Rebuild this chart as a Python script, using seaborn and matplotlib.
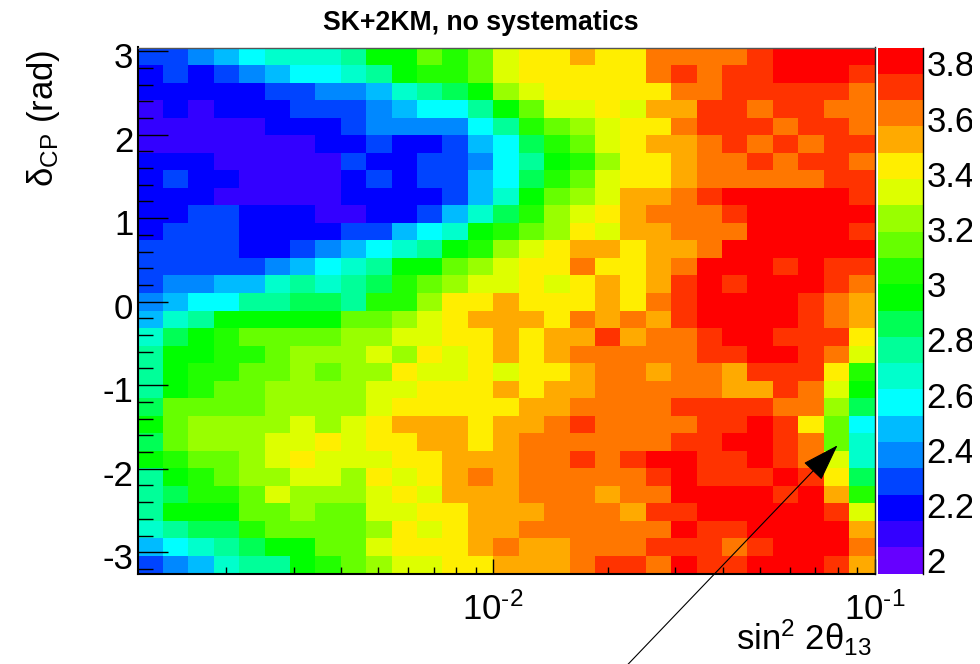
#!/usr/bin/env python3

"""SK+2KM sensitivity map in sin^2 2theta13 and delta CP, no systematics."""

import matplotlib.pyplot as plt
import matplotlib.transforms as mtransforms
import numpy as np
import seaborn as sns
from matplotlib.colors import ListedColormap
from matplotlib.patches import FancyArrowPatch
from matplotlib.ticker import FixedFormatter, FixedLocator, MultipleLocator

TITLE = "SK+2KM, no systematics"
YLABEL = r"$\mathrm{δ}_{\mathrm{CP}}$ (rad)"
XLABEL = r"sin$^{2}$ 2θ$_{13}$"

# one row per delta CP bin, top row first, one value per sin^2 2theta13 bin
surface = [
    [2.27, 2.27, 2.37, 2.46, 2.56, 2.65, 2.65, 2.65, 2.75, 2.94, 2.94, 3.13, 3.03, 3.13, 3.32, 3.42, 3.42, 3.51, 3.42, 3.42, 3.61, 3.61, 3.61, 3.61, 3.70, 3.80, 3.80, 3.80, 3.80],
    [2.18, 2.27, 2.18, 2.27, 2.37, 2.46, 2.56, 2.56, 2.65, 2.75, 2.94, 3.03, 3.03, 3.13, 3.32, 3.42, 3.42, 3.42, 3.42, 3.42, 3.61, 3.70, 3.61, 3.70, 3.70, 3.80, 3.80, 3.80, 3.70],
    [2.18, 2.18, 2.18, 2.18, 2.18, 2.27, 2.27, 2.37, 2.37, 2.46, 2.65, 2.75, 2.84, 2.94, 3.23, 3.32, 3.42, 3.42, 3.42, 3.42, 3.42, 3.61, 3.61, 3.70, 3.70, 3.70, 3.70, 3.70, 3.61],
    [2.08, 2.18, 2.08, 2.18, 2.18, 2.18, 2.27, 2.27, 2.27, 2.37, 2.46, 2.56, 2.56, 2.75, 2.94, 3.13, 3.32, 3.32, 3.42, 3.32, 3.51, 3.51, 3.70, 3.70, 3.61, 3.70, 3.70, 3.61, 3.61],
    [2.08, 2.08, 2.08, 2.08, 2.08, 2.18, 2.18, 2.18, 2.27, 2.37, 2.37, 2.37, 2.37, 2.56, 2.75, 3.03, 3.13, 3.23, 3.32, 3.42, 3.42, 3.61, 3.70, 3.70, 3.70, 3.61, 3.70, 3.70, 3.61],
    [2.08, 2.08, 2.08, 2.08, 2.08, 2.08, 2.08, 2.18, 2.18, 2.27, 2.18, 2.18, 2.27, 2.46, 2.56, 2.84, 3.03, 3.13, 3.32, 3.42, 3.51, 3.51, 3.61, 3.70, 3.61, 3.70, 3.61, 3.70, 3.70],
    [2.18, 2.18, 2.18, 2.08, 2.08, 2.08, 2.08, 2.08, 2.27, 2.18, 2.18, 2.27, 2.27, 2.37, 2.56, 2.75, 2.94, 3.03, 3.23, 3.42, 3.42, 3.51, 3.61, 3.61, 3.70, 3.61, 3.70, 3.70, 3.61],
    [2.18, 2.27, 2.18, 2.18, 2.08, 2.08, 2.08, 2.08, 2.18, 2.27, 2.18, 2.27, 2.27, 2.46, 2.56, 2.84, 3.03, 3.13, 3.32, 3.42, 3.42, 3.51, 3.61, 3.61, 3.61, 3.61, 3.61, 3.70, 3.70],
    [2.18, 2.18, 2.18, 2.08, 2.08, 2.08, 2.08, 2.08, 2.18, 2.18, 2.18, 2.18, 2.27, 2.46, 2.65, 2.94, 3.13, 3.23, 3.32, 3.51, 3.51, 3.61, 3.70, 3.80, 3.80, 3.80, 3.80, 3.80, 3.70],
    [2.18, 2.18, 2.27, 2.27, 2.18, 2.18, 2.18, 2.08, 2.08, 2.18, 2.18, 2.27, 2.46, 2.65, 2.84, 3.03, 3.23, 3.32, 3.42, 3.51, 3.61, 3.61, 3.61, 3.70, 3.80, 3.80, 3.80, 3.80, 3.80],
    [2.18, 2.27, 2.27, 2.27, 2.18, 2.18, 2.18, 2.18, 2.27, 2.27, 2.46, 2.56, 2.65, 2.94, 3.03, 3.13, 3.23, 3.42, 3.32, 3.51, 3.51, 3.61, 3.61, 3.61, 3.80, 3.80, 3.80, 3.80, 3.70],
    [2.27, 2.27, 2.27, 2.27, 2.18, 2.18, 2.27, 2.37, 2.46, 2.56, 2.65, 2.75, 2.94, 3.03, 3.23, 3.32, 3.42, 3.51, 3.51, 3.42, 3.51, 3.51, 3.61, 3.80, 3.80, 3.80, 3.80, 3.80, 3.80],
    [2.27, 2.27, 2.27, 2.27, 2.27, 2.37, 2.46, 2.56, 2.65, 2.75, 2.94, 2.94, 3.13, 3.23, 3.32, 3.42, 3.42, 3.61, 3.42, 3.42, 3.51, 3.61, 3.80, 3.80, 3.80, 3.70, 3.80, 3.70, 3.70],
    [2.27, 2.37, 2.37, 2.46, 2.46, 2.65, 2.75, 2.65, 2.75, 2.84, 3.03, 3.13, 3.23, 3.32, 3.32, 3.42, 3.32, 3.42, 3.51, 3.42, 3.51, 3.70, 3.80, 3.70, 3.80, 3.80, 3.80, 3.70, 3.61],
    [2.37, 2.46, 2.56, 2.56, 2.75, 2.75, 2.84, 2.84, 2.75, 3.03, 3.03, 3.23, 3.42, 3.42, 3.51, 3.42, 3.42, 3.42, 3.51, 3.42, 3.61, 3.70, 3.80, 3.80, 3.80, 3.80, 3.70, 3.61, 3.51],
    [2.46, 2.65, 2.75, 2.94, 2.94, 2.94, 2.94, 2.94, 3.13, 3.13, 3.23, 3.32, 3.42, 3.51, 3.51, 3.51, 3.42, 3.61, 3.51, 3.61, 3.51, 3.70, 3.80, 3.80, 3.80, 3.80, 3.70, 3.61, 3.51],
    [2.65, 2.84, 2.94, 3.03, 3.13, 3.13, 3.13, 3.13, 3.23, 3.23, 3.32, 3.32, 3.42, 3.42, 3.51, 3.42, 3.51, 3.51, 3.70, 3.51, 3.61, 3.61, 3.70, 3.80, 3.80, 3.70, 3.70, 3.70, 3.42],
    [2.75, 2.94, 2.94, 3.03, 3.03, 3.13, 3.23, 3.23, 3.23, 3.32, 3.23, 3.42, 3.32, 3.42, 3.51, 3.42, 3.51, 3.61, 3.61, 3.61, 3.61, 3.61, 3.70, 3.70, 3.80, 3.80, 3.70, 3.61, 3.32],
    [2.75, 2.94, 3.03, 3.03, 3.13, 3.13, 3.23, 3.13, 3.23, 3.23, 3.42, 3.32, 3.32, 3.42, 3.32, 3.42, 3.42, 3.51, 3.61, 3.61, 3.51, 3.61, 3.61, 3.51, 3.70, 3.70, 3.70, 3.42, 3.03],
    [2.75, 2.94, 3.03, 3.13, 3.13, 3.23, 3.23, 3.23, 3.23, 3.32, 3.32, 3.42, 3.42, 3.42, 3.51, 3.42, 3.51, 3.51, 3.61, 3.61, 3.61, 3.61, 3.61, 3.51, 3.51, 3.70, 3.61, 3.32, 2.94],
    [2.84, 3.13, 3.13, 3.13, 3.13, 3.23, 3.23, 3.23, 3.23, 3.32, 3.42, 3.42, 3.42, 3.42, 3.42, 3.51, 3.51, 3.61, 3.61, 3.61, 3.61, 3.70, 3.70, 3.70, 3.70, 3.61, 3.61, 3.23, 2.84],
    [2.94, 3.13, 3.23, 3.23, 3.23, 3.23, 3.32, 3.23, 3.32, 3.42, 3.51, 3.51, 3.51, 3.42, 3.51, 3.51, 3.61, 3.70, 3.61, 3.61, 3.61, 3.61, 3.70, 3.70, 3.80, 3.70, 3.42, 3.13, 2.56],
    [2.84, 3.13, 3.23, 3.23, 3.23, 3.32, 3.32, 3.42, 3.32, 3.42, 3.42, 3.51, 3.51, 3.42, 3.51, 3.61, 3.61, 3.61, 3.61, 3.61, 3.61, 3.70, 3.70, 3.80, 3.80, 3.70, 3.61, 3.13, 2.65],
    [2.94, 3.03, 3.13, 3.13, 3.23, 3.32, 3.42, 3.32, 3.32, 3.32, 3.42, 3.42, 3.51, 3.51, 3.51, 3.61, 3.61, 3.70, 3.61, 3.70, 3.80, 3.80, 3.70, 3.70, 3.80, 3.70, 3.61, 3.32, 2.65],
    [2.75, 2.94, 3.03, 3.13, 3.23, 3.23, 3.32, 3.32, 3.23, 3.42, 3.32, 3.42, 3.51, 3.61, 3.51, 3.61, 3.61, 3.61, 3.61, 3.61, 3.70, 3.80, 3.70, 3.70, 3.70, 3.80, 3.70, 3.42, 2.84],
    [2.75, 2.84, 3.03, 3.03, 3.13, 3.32, 3.23, 3.23, 3.23, 3.32, 3.42, 3.32, 3.51, 3.51, 3.51, 3.61, 3.61, 3.61, 3.51, 3.61, 3.61, 3.80, 3.80, 3.80, 3.80, 3.70, 3.80, 3.51, 3.03],
    [2.75, 2.94, 2.94, 2.94, 3.13, 3.13, 3.23, 3.13, 3.13, 3.32, 3.32, 3.42, 3.42, 3.51, 3.51, 3.51, 3.61, 3.61, 3.61, 3.51, 3.70, 3.70, 3.80, 3.80, 3.80, 3.80, 3.80, 3.70, 3.32],
    [2.65, 2.75, 2.84, 2.84, 3.03, 3.13, 3.13, 3.13, 3.13, 3.23, 3.42, 3.32, 3.42, 3.51, 3.51, 3.61, 3.61, 3.61, 3.61, 3.61, 3.61, 3.80, 3.70, 3.70, 3.80, 3.80, 3.80, 3.80, 3.51],
    [2.46, 2.56, 2.65, 2.75, 2.84, 2.94, 2.94, 3.13, 3.13, 3.32, 3.42, 3.42, 3.42, 3.51, 3.61, 3.51, 3.51, 3.61, 3.61, 3.61, 3.70, 3.70, 3.70, 3.61, 3.70, 3.80, 3.80, 3.80, 3.61],
    [2.27, 2.37, 2.46, 2.65, 2.75, 2.75, 2.94, 3.03, 3.13, 3.23, 3.32, 3.32, 3.42, 3.42, 3.51, 3.51, 3.51, 3.61, 3.70, 3.70, 3.61, 3.80, 3.70, 3.70, 3.80, 3.80, 3.80, 3.70, 3.51],
]

level_colors = [
    "#6600ff", "#3300ff", "#0000ff", "#0044ff", "#0088ff",
    "#00bbff", "#00ffff", "#00ffcc", "#00ff99", "#00ff55",
    "#00ff00", "#22ff00", "#66ff00", "#99ff00", "#ddff00",
    "#ffee00", "#ffaa00", "#ff7700", "#ff3300", "#ff0000",
]
z_min, z_max = 1.937, 3.843
z_ticks = [2, 2.2, 2.4, 2.6, 2.8, 3, 3.2, 3.4, 3.6, 3.8]
z_tick_labels = ["2", "2.2", "2.4", "2.6", "2.8", "3", "3.2", "3.4", "3.6", "3.8"]

x_min, x_max = 1.169e-3, 0.1
x_ticks = [0.01, 0.1]
x_tick_labels = [r"$\mathdefault{10^{\text{-}2}}$", r"$\mathdefault{10^{\text{-}1}}$"]
y_min, y_max = -3.255, 3.044
y_ticks = [-3, -2, -1, 0, 1, 2, 3]
y_tick_labels = ["-3", "-2", "-1", "0", "1", "2", "3"]

arrow_tail = (0.0225, -4.35)
arrow_tip = (0.08, -1.72)

sns.set_theme(style="white", font="Liberation Sans")
plt.rcParams["mathtext.fontset"] = "custom"
plt.rcParams["mathtext.rm"] = "Liberation Sans"
plt.rcParams["mathtext.it"] = "Liberation Sans"
plt.rcParams["axes.unicode_minus"] = False

WIDTH, HEIGHT = 980, 664


def pixel_box(left, top, right, bottom):
    """Axes rectangle from pixel edges measured from the top left."""
    return [left / WIDTH, 1 - bottom / HEIGHT, (right - left) / WIDTH, (bottom - top) / HEIGHT]


def nudge(labels, fig, dx=0, dy=0):
    """Shift tick labels by some pixels."""
    offset = mtransforms.ScaledTranslation(dx / fig.dpi, dy / fig.dpi, fig.dpi_scale_trans)
    for label in labels:
        label.set_transform(label.get_transform() + offset)


def main():
    fig = plt.figure(figsize=(WIDTH / 100, HEIGHT / 100), dpi=100)
    box = pixel_box(137.5, 47.5, 874.5, 573.5)
    ax = fig.add_axes(box)
    cax = fig.add_axes(pixel_box(878, 47.5, 922.5, 573.5))

    sns.heatmap(
        np.array(surface),
        ax=ax,
        cbar_ax=cax,
        cmap=ListedColormap(level_colors),
        vmin=z_min,
        vmax=z_max,
        xticklabels=False,
        yticklabels=False,
        cbar_kws={"ticks": z_ticks},
    )

    # palette axis
    cbar = ax.collections[0].colorbar
    cbar.outline.set_visible(False)
    cax.spines["right"].set_visible(True)
    cax.spines["right"].set_color("black")
    cax.spines["right"].set_linewidth(1)
    cbar.ax.set_yticklabels(z_tick_labels)
    cax.tick_params(axis="y", direction="in", length=16.5, width=1, color="black",
                    labelsize=25, pad=3, right=True, labelcolor="black")
    nudge(cax.get_yticklabels(), fig, dy=-4)
    for label in cax.get_yticklabels():
        label.set_clip_box(mtransforms.Bbox([[0, 0], [972, HEIGHT]]))
        label.set_clip_on(True)

    # the cells are log spaced, so the real axes sit on top of the heatmap
    top = fig.add_axes(box, facecolor="none")
    top.set_xscale("log")
    top.set_xlim(x_min, x_max)
    top.set_ylim(y_min, y_max)
    top.xaxis.set_major_locator(FixedLocator(x_ticks))
    top.xaxis.set_major_formatter(FixedFormatter(x_tick_labels))
    top.xaxis.set_minor_locator(FixedLocator(
        [m * d for d in (0.001, 0.01) for m in range(2, 10)]))
    top.xaxis.set_minor_formatter(FixedFormatter([]))
    top.yaxis.set_major_locator(FixedLocator(y_ticks))
    top.yaxis.set_major_formatter(FixedFormatter(y_tick_labels))
    top.yaxis.set_minor_locator(MultipleLocator(0.2))
    top.tick_params(axis="x", which="major", direction="in", length=10.8, width=1,
                    color="black", labelsize=25, pad=13.5, bottom=True, labelcolor="black")
    top.tick_params(axis="x", which="minor", direction="in", length=5, width=1,
                    color="black", bottom=True)
    top.tick_params(axis="y", which="major", direction="in", length=21.6, width=1,
                    color="black", labelsize=25, pad=3, left=True, labelcolor="black")
    top.tick_params(axis="y", which="minor", direction="in", length=10.8, width=1,
                    color="black", left=True)
    nudge(top.get_yticklabels(), fig, dy=-4)
    for side, width, color in (
        ("left", 1.5, "black"),
        ("bottom", 1.5, "black"),
        ("right", 1, "#222222"),
        ("top", 1, "#555555"),
    ):
        top.spines[side].set_visible(True)
        top.spines[side].set_linewidth(width)
        top.spines[side].set_color(color)

    top.add_patch(FancyArrowPatch(
        arrow_tail,
        arrow_tip,
        arrowstyle="-|>,head_length=24,head_width=8",
        mutation_scale=1,
        shrinkA=0,
        shrinkB=0,
        linewidth=0.8,
        color="black",
        clip_on=False,
        zorder=5,
    ))

    fig.text(481 / WIDTH, 1 - 29.5 / HEIGHT, TITLE, ha="center", va="baseline",
             fontsize=19.2, fontweight="bold", color="black")
    fig.text(43 / WIDTH, 1 - 118 / HEIGHT, YLABEL, rotation=90, ha="center",
             va="center", fontsize=25, color="black")
    fig.text(872 / WIDTH, 1 - 650 / HEIGHT, XLABEL, ha="right", va="baseline",
             fontsize=25, color="black")

    fig.savefig("out.png", dpi=100)
    plt.close(fig)


if __name__ == "__main__":
    main()
